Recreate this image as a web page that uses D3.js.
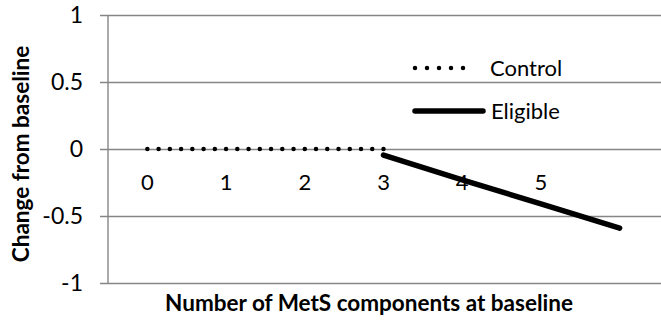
<!DOCTYPE html>
<html><head><meta charset="utf-8">
<script src="https://cdn.jsdelivr.net/npm/d3@7"></script>
<style>body{margin:0;background:#fff}svg{display:block}text{font-family:Lato,"Open Sans",sans-serif;fill:#000}</style>
</head><body><svg id="c" width="661" height="323"></svg>
<script>
const categories = ["0","1","2","3","4","5",""];
const controlValues = [0,0,0,0,null,null,null];
const eligibleValues = [null,null,null,-0.045,-0.23,-0.41,-0.59];
const yTicks = [-1,-0.5,0,0.5,1];
const seriesNames = ["Control","Eligible"];
const xTitle = "Number of MetS components at baseline";
const yTitle = "Change from baseline";

const svg = d3.select("#c");
const L = 108, R = 659, T = 15, B = 283;
const x = d3.scaleBand().domain(categories).range([L, R]);
const y = d3.scaleLinear().domain([-1,1]).range([B, T]);
const fs = 22;
const yfs = 23;
const tfs = 22.5;

// gridlines + y axis
const yAxis = d3.axisLeft(y).tickValues(yTicks).tickSize(-(661 - L)).tickPadding(10)
  .tickFormat(d => String(d));
const gy = svg.append("g").attr("transform", `translate(${L},0)`).call(yAxis);
gy.select(".domain").remove();
gy.selectAll(".tick line").attr("stroke", "#868686").attr("stroke-width", 1.4).attr("x1", -8);
gy.selectAll(".tick text").attr("font-size", yfs).attr("font-family", "Lato").attr("x", -25);
svg.append("line").attr("x1", L).attr("x2", L).attr("y1", T).attr("y2", B)
  .attr("stroke", "#868686").attr("stroke-width", 1.4);

// x labels below the zero line
const xAxis = d3.axisBottom(x).tickSize(0).tickPadding(24);
const gx = svg.append("g").attr("transform", `translate(0,${y(0)})`).call(xAxis);
gx.select(".domain").remove();
gx.selectAll(".tick text").attr("font-size", fs).attr("font-family", "Lato").attr("y", 41).attr("dy", "0");

const cx = d => x(d) + x.bandwidth()/2;
const line = d3.line().defined(d => d.v != null).x(d => cx(d.c)).y(d => y(d.v));
const ctrl = categories.map((c,i) => ({c, v: controlValues[i]}));
const elig = categories.map((c,i) => ({c, v: eligibleValues[i]}));
const ctrlLen = cx(categories[3]) - cx(categories[0]);
const gap = ctrlLen / 21;

svg.append("path").datum(ctrl).attr("d", line).attr("fill","none").attr("stroke","#000")
  .attr("stroke-width", 4.5).attr("stroke-linecap","round").attr("stroke-dasharray",`0,${gap}`);
svg.append("path").datum(elig).attr("d", line).attr("fill","none").attr("stroke","#000")
  .attr("stroke-width", 5.5).attr("stroke-linecap","round");

// legend
const lg = svg.append("g");
lg.append("line").attr("x1",415).attr("x2",475).attr("y1",68).attr("y2",68)
  .attr("stroke","#000").attr("stroke-width",4.5).attr("stroke-linecap","round").attr("stroke-dasharray","0,12");
lg.append("text").attr("x",490).attr("y",68).attr("dy","0.35em").attr("font-size",fs).text(seriesNames[0]);
lg.append("line").attr("x1",415).attr("x2",483).attr("y1",111).attr("y2",111)
  .attr("stroke","#000").attr("stroke-width",5.5).attr("stroke-linecap","round");
lg.append("text").attr("x",491).attr("y",111).attr("dy","0.35em").attr("font-size",fs).text(seriesNames[1]);

// titles
svg.append("text").attr("x", 369).attr("y", 303).attr("dy","0.35em").attr("text-anchor","middle")
  .attr("font-size", tfs).attr("font-weight","bold").text(xTitle);
svg.append("text").attr("transform","translate(21,154) rotate(-90)").attr("dy","0.35em").attr("text-anchor","middle")
  .attr("font-size", tfs).attr("font-weight","bold").text(yTitle);
</script></body></html>
